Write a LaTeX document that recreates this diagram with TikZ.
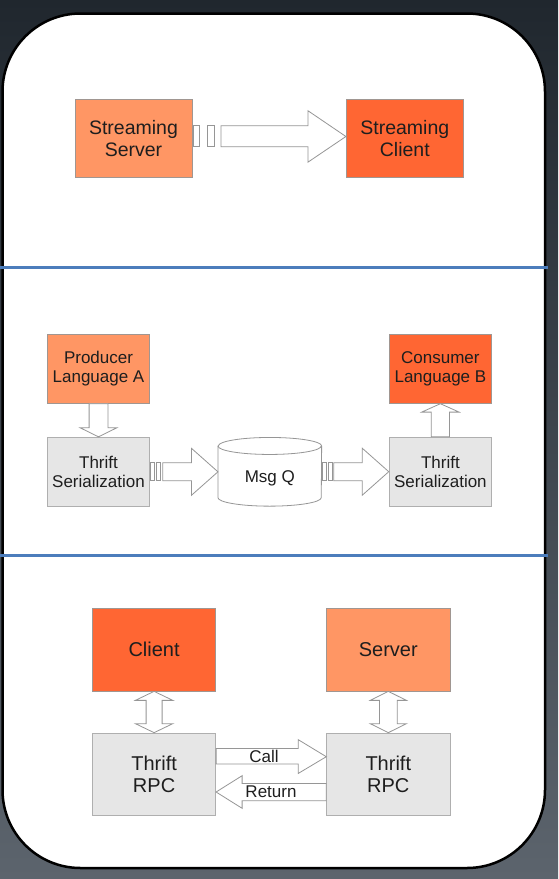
\documentclass[tikz,border=0pt]{standalone}
\usepackage{fontspec}
\setmainfont{Liberation Sans}
\usetikzlibrary{calc}
\pgfdeclarelayer{bg}
\pgfsetlayers{bg,main}

\definecolor{bgtop}{RGB}{32,39,46}
\definecolor{bgbot}{RGB}{92,100,109}
\definecolor{sepblue}{RGB}{76,125,188}
\definecolor{orlight}{RGB}{255,150,100}
\definecolor{ordeep}{RGB}{255,102,51}
\definecolor{boxgrey}{RGB}{230,230,230}
\definecolor{orline}{RGB}{160,150,145}
\definecolor{greyline}{RGB}{175,175,175}
\definecolor{arrline}{RGB}{150,150,150}
\definecolor{txt}{RGB}{30,30,30}

\begin{document}
\begin{tikzpicture}[x=1pt, y=-1pt, every node/.style={inner sep=0pt, align=center, text=txt},
	light/.style={rectangle, draw=orline, fill=orlight, line width=0.8pt},
	deep/.style={rectangle, draw=orline, fill=ordeep, line width=0.8pt},
	grey/.style={rectangle, draw=greyline, fill=boxgrey, line width=0.8pt},
	blk/.style={draw=arrline, fill=white, line width=0.8pt},
	big/.style={minimum width=117pt, minimum height=78pt, font=\fontsize{19.5}{22}\selectfont},
	mid/.style={minimum width=102.5pt, minimum height=69pt, font=\fontsize{17}{19}\selectfont},
	rpc/.style={minimum width=123.2pt, minimum height=82.3pt, font=\fontsize{20}{22.5}\selectfont}]
	%Background and panel
	\useasboundingbox (0,0) rectangle (558,879);
	\begin{pgfonlayer}{bg}
	\fill[top color=bgtop, bottom color=bgbot] (0,0) rectangle (558,879);
	\draw[line width=2.5pt, fill=white, rounded corners=78pt] (2.5,13.5) rectangle (545,868);
	\end{pgfonlayer}
	\draw[sepblue, line width=3pt] (0,267) -- (548,267);
	\draw[sepblue, line width=3pt] (0,555) -- (548,555);
	%Streaming
	\node [light,big] (strs) at (133.5,138.2) {Streaming\\Server};
	\node [deep,big] (strc) at (404.8,138.2) {Streaming\\Client};
	\draw[blk] ($(strs.east)+(0.7,-12.5)$) rectangle ($(strs.east)+(7,8.5)$);
	\draw[blk] ($(strs.east)+(14.5,-12.5)$) rectangle ($(strs.east)+(21.5,8.5)$);
	\draw[blk] ($(strs.east)+(28.5,-12.5)$) -- ($(strc.west)+(-38,-12.5)$) -- ($(strc.west)+(-38,-27.5)$)
		-- ($(strc.west)+(0,-1.7)$) -- ($(strc.west)+(-38,24)$) -- ($(strc.west)+(-38,8.5)$) -- ($(strs.east)+(28.5,8.5)$) -- cycle;
	%Serialization
	\node [light,mid] (prod) at (98.5,368.8) {Producer\\Language A};
	\node [deep,mid] (cons) at (440.4,368.8) {Consumer\\Language B};
	\node [grey,mid] (sera) at (98.5,471.7) {Thrift\\Serialization};
	\node [grey,mid] (serb) at (440.4,471.7) {Thrift\\Serialization};
	\node [minimum width=103.3pt, minimum height=68.3pt, text height=25pt, text depth=3.6pt, font=\fontsize{17}{19}\selectfont] (msgq) at (269.8,471.8) {Msg Q};
	\begin{pgfonlayer}{bg}
	\draw[blk] ($(msgq.north west)+(0,8.5)$) -- ($(msgq.south west)+(0,-8.5)$) arc (180:360:51.65pt and 8.5pt)
		-- ($(msgq.north east)+(0,8.5)$) arc (0:180:51.65pt and 8.5pt) -- cycle;
	\draw[arrline, line width=0.8pt] ($(msgq.north west)+(0,8.5)$) arc (180:360:51.65pt and 8.5pt);
	\end{pgfonlayer}
	\draw[blk] ($(prod.south)+(-9.4,0)$) -- ($(sera.north)+(-9.4,-9)$) -- ($(sera.north)+(-18.3,-9)$) -- (sera.north)
		-- ($(sera.north)+(18.3,-9)$) -- ($(sera.north)+(9.4,-9)$) -- ($(prod.south)+(9.4,0)$) -- cycle;
	\draw[blk] ($(serb.north)+(-9.1,0)$) -- ($(cons.south)+(-9.1,8.4)$) -- ($(cons.south)+(-18.7,8.4)$) -- (cons.south)
		-- ($(cons.south)+(18.7,8.4)$) -- ($(cons.south)+(9.1,8.4)$) -- ($(serb.north)+(9.1,0)$) -- cycle;
	\draw[blk] ($(sera.east)+(0.7,-9)$) rectangle ($(sera.east)+(4.7,9)$);
	\draw[blk] ($(sera.east)+(6.7,-9)$) rectangle ($(sera.east)+(10.7,9)$);
	\draw[blk] ($(sera.east)+(12.5,-9)$) -- ($(msgq.west)+(-26.5,-9)$) -- ($(msgq.west)+(-26.5,-23.5)$) -- (msgq.west)
		-- ($(msgq.west)+(-26.5,23.5)$) -- ($(msgq.west)+(-26.5,9)$) -- ($(sera.east)+(12.5,9)$) -- cycle;
	\draw[blk] ($(msgq.east)+(0.8,-9)$) rectangle ($(msgq.east)+(4.8,9)$);
	\draw[blk] ($(msgq.east)+(6.5,-9)$) rectangle ($(msgq.east)+(10.5,9)$);
	\draw[blk] ($(msgq.east)+(12,-9)$) -- ($(serb.west)+(-26.5,-9)$) -- ($(serb.west)+(-26.5,-23.5)$) -- (serb.west)
		-- ($(serb.west)+(-26.5,23.5)$) -- ($(serb.west)+(-26.5,9)$) -- ($(msgq.east)+(12,9)$) -- cycle;
	%RPC
	\node [deep,rpc] (cli) at (154.1,649.8) {Client};
	\node [light,rpc] (srv) at (388.3,649.8) {Server};
	\node [grey,rpc] (rpca) at (154.1,774.2) {Thrift\\RPC};
	\node [grey,rpc] (rpcb) at (388.3,774.2) {Thrift\\RPC};
	\draw[blk] (cli.south) -- ($(cli.south)+(18.7,9)$) -- ($(cli.south)+(8,9)$) -- ($(rpca.north)+(8,-9)$) -- ($(rpca.north)+(18.7,-9)$)
		-- (rpca.north) -- ($(rpca.north)+(-18.7,-9)$) -- ($(rpca.north)+(-8,-9)$) -- ($(cli.south)+(-8,9)$) -- ($(cli.south)+(-18.7,9)$) -- cycle;
	\draw[blk] (srv.south) -- ($(srv.south)+(18.1,9)$) -- ($(srv.south)+(8.9,9)$) -- ($(rpcb.north)+(8.9,-9)$) -- ($(rpcb.north)+(18.1,-9)$)
		-- (rpcb.north) -- ($(rpcb.north)+(-18.1,-9)$) -- ($(rpcb.north)+(-8.9,-9)$) -- ($(srv.south)+(-8.9,9)$) -- ($(srv.south)+(-18.1,9)$) -- cycle;
	\draw[blk] ($(rpca.east)+(0,-25.8)$) -- ($(rpcb.west)+(-28,-25.8)$) -- ($(rpcb.west)+(-28,-34.5)$) -- ($(rpcb.west)+(0,-17.5)$)
		-- ($(rpcb.west)+(-28,-0.8)$) -- ($(rpcb.west)+(-28,-10.2)$) -- ($(rpca.east)+(0,-10.2)$) -- cycle;
	\draw[blk] ($(rpcb.west)+(0,9.3)$) -- ($(rpca.east)+(26,9.3)$) -- ($(rpca.east)+(26,1.5)$) -- ($(rpca.east)+(0,17.8)$)
		-- ($(rpca.east)+(26,34.1)$) -- ($(rpca.east)+(26,26.5)$) -- ($(rpcb.west)+(0,26.5)$) -- cycle;
	\node [font=\fontsize{17}{19}\selectfont] (call) at (264,756.5) {Call};
	\node [font=\fontsize{17}{19}\selectfont] (ret) at (271,792) {Return};
\end{tikzpicture}
\end{document}
